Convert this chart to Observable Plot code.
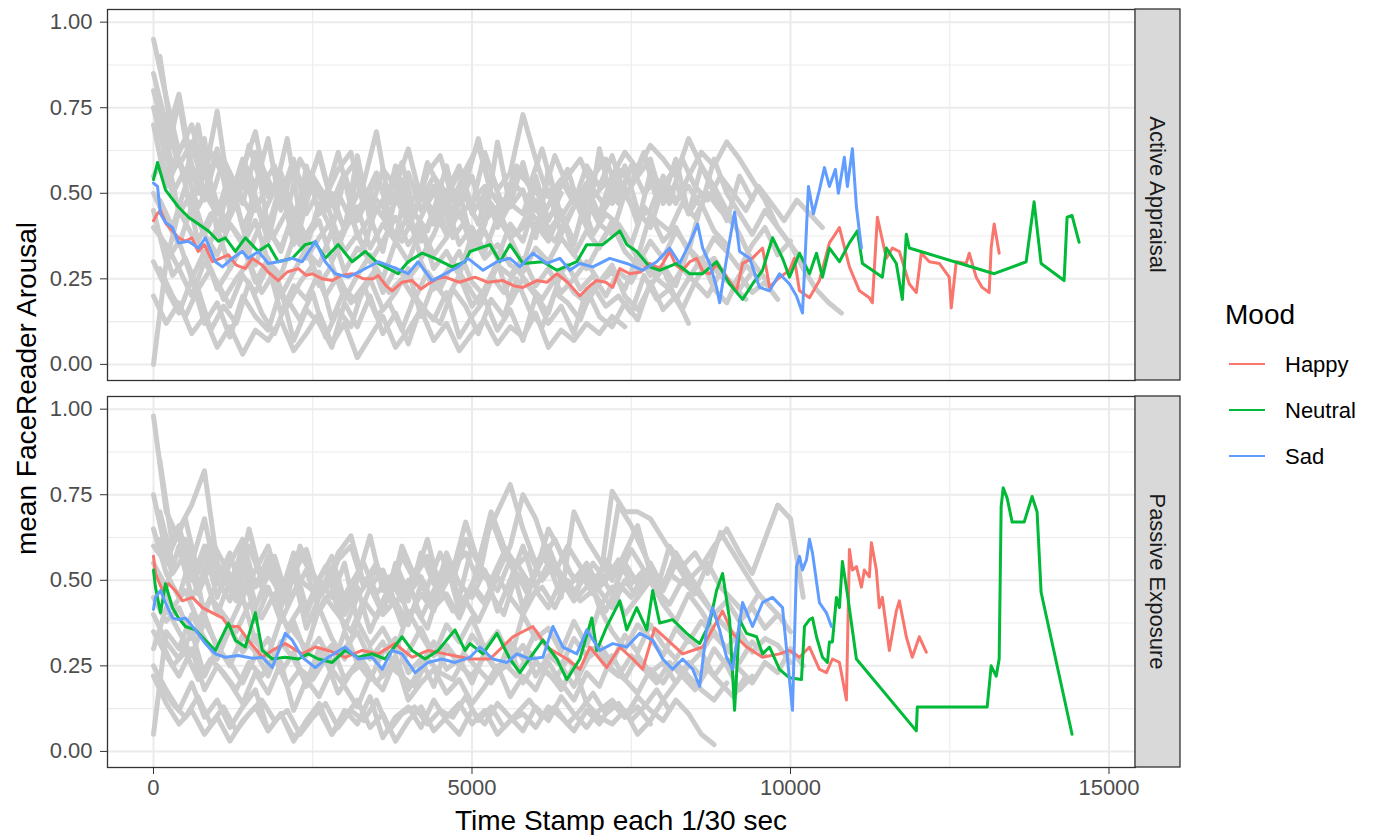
<!DOCTYPE html>
<html>
<head>
<meta charset="utf-8">
<script src="https://cdn.jsdelivr.net/npm/d3@7"></script>
<script src="https://cdn.jsdelivr.net/npm/@observablehq/plot@0.6"></script>
<style>
  html, body { margin: 0; padding: 0; background: #ffffff; }
  #chart { width: 1376px; height: 835px; }
</style>
</head>
<body>
<div id="chart"></div>
<script>
// ---------------- DATA ----------------
const facets = ["Active Appraisal", "Passive Exposure"];
const moods = ["Happy", "Neutral", "Sad"];
const moodColors = ["#F8766D", "#00BA38", "#619CFF"];
const xTicks = [0, 5000, 10000, 15000];
const xMinorTicks = [2500, 7500, 12500];
const yTicks = [0, 0.25, 0.5, 0.75, 1];
const yMinorTicks = [0.125, 0.375, 0.625, 0.875];

// Mean lines, Active Appraisal
const activeHappyT = [0,60,110,200,300,392,500,600,700,800,925,1050,1176,1300,1442,1550,1708,1800,1959,2100,2273,2400,2492,2650,2806,2950,3119,3300,3448,3527,3650,3746,3900,4060,4200,4310,4450,4577,4800,5047,5250,5486,5650,5800,6019,6176,6332,6500,6693,6850,6959,7100,7210,7320,7476,7650,7790,7950,8103,8200,8307,8420,8527,8630,8730,8830,8934,9050,9154,9248,9400,9561,9620,9671,9800,9984,10060,10141,10298,10454,10611,10700,10768,10850,10925,11082,11238,11285,11364,11505,11600,11709,11865,11975,12053,12179,12336,12492,12524,12602,12759,12806,12915,13009,13119,13150,13197,13276];
const activeHappyV = [0.42,0.44,0.45,0.41,0.39,0.37,0.36,0.37,0.33,0.35,0.30,0.31,0.32,0.29,0.28,0.31,0.29,0.27,0.245,0.27,0.28,0.26,0.265,0.25,0.245,0.26,0.265,0.25,0.25,0.26,0.23,0.215,0.24,0.245,0.22,0.235,0.25,0.255,0.24,0.255,0.24,0.245,0.23,0.225,0.245,0.24,0.265,0.24,0.20,0.23,0.245,0.24,0.225,0.28,0.265,0.27,0.295,0.28,0.33,0.29,0.275,0.30,0.31,0.27,0.265,0.29,0.275,0.24,0.215,0.295,0.31,0.34,0.28,0.225,0.25,0.275,0.31,0.215,0.195,0.245,0.355,0.38,0.40,0.34,0.285,0.215,0.195,0.18,0.43,0.31,0.34,0.33,0.235,0.21,0.325,0.30,0.295,0.255,0.165,0.30,0.295,0.325,0.255,0.225,0.21,0.34,0.41,0.325];
const activeNeutralT = [0,63,188,392,549,705,862,1019,1129,1285,1442,1646,1803,1959,2179,2382,2539,2696,2900,3119,3323,3527,3840,3997,4216,4420,4687,4890,4969,5282,5439,5596,5800,6113,6332,6646,6802,7053,7320,7430,7586,7790,7947,8213,8417,8621,8840,9044,9248,9404,9561,9718,9875,9984,10141,10298,10408,10502,10611,10768,10925,11050,11129,11285,11442,11505,11661,11756,11818,11865,13197,13699,13824,13934,14295,14342,14420,14530];
const activeNeutralV = [0.54,0.59,0.51,0.46,0.43,0.41,0.39,0.36,0.37,0.33,0.37,0.33,0.35,0.30,0.31,0.35,0.357,0.31,0.35,0.30,0.33,0.295,0.265,0.30,0.325,0.31,0.285,0.30,0.33,0.35,0.30,0.35,0.295,0.30,0.275,0.30,0.35,0.35,0.39,0.35,0.33,0.285,0.275,0.295,0.265,0.265,0.30,0.235,0.19,0.235,0.275,0.37,0.31,0.255,0.325,0.265,0.325,0.255,0.34,0.30,0.355,0.39,0.295,0.275,0.255,0.34,0.295,0.19,0.38,0.34,0.265,0.30,0.475,0.295,0.245,0.43,0.435,0.357];
const activeSadT = [0,63,110,188,298,392,549,705,815,972,1082,1238,1395,1489,1646,1803,1959,2179,2335,2539,2696,2853,3056,3276,3527,3746,3997,4153,4373,4577,4781,4937,5172,5392,5596,5752,5956,6176,6379,6536,6693,6897,7163,7430,7680,7900,8103,8260,8417,8542,8621,8730,8840,8887,8997,9122,9201,9358,9514,9671,9828,9984,10094,10188,10282,10360,10454,10533,10611,10705,10752,10846,10893,10972,11035,11113];
const activeSadV = [0.53,0.52,0.44,0.415,0.40,0.355,0.36,0.34,0.37,0.30,0.285,0.31,0.33,0.31,0.33,0.295,0.30,0.31,0.30,0.36,0.30,0.265,0.255,0.275,0.30,0.285,0.265,0.30,0.245,0.265,0.285,0.31,0.275,0.30,0.31,0.285,0.325,0.295,0.31,0.275,0.295,0.285,0.31,0.295,0.275,0.30,0.34,0.295,0.355,0.41,0.34,0.295,0.225,0.18,0.31,0.445,0.33,0.31,0.225,0.215,0.265,0.235,0.20,0.15,0.52,0.44,0.51,0.575,0.52,0.57,0.50,0.605,0.52,0.63,0.46,0.34];

// Mean lines, Passive Exposure
const passiveHappyT = [0,31,141,235,345,455,611,768,925,1082,1176,1332,1489,1708,1865,2069,2335,2539,2743,3009,3276,3527,3793,4060,4310,4577,4843,4969,5282,5643,5956,6176,6489,6693,6850,7116,7320,7524,7680,7868,8307,8621,8934,9091,9310,9561,9828,9984,10141,10298,10454,10564,10658,10768,10878,10925,10972,11035,11113,11160,11238,11270,11348,11395,11442,11552,11661,11709,11818,11912,12022,12132];
const passiveHappyV = [0.57,0.52,0.47,0.49,0.47,0.44,0.45,0.42,0.405,0.39,0.365,0.365,0.325,0.275,0.295,0.315,0.285,0.305,0.295,0.275,0.295,0.285,0.315,0.275,0.295,0.285,0.275,0.27,0.27,0.335,0.365,0.305,0.27,0.24,0.305,0.245,0.305,0.27,0.24,0.36,0.285,0.305,0.41,0.345,0.305,0.275,0.285,0.295,0.275,0.305,0.24,0.23,0.27,0.26,0.15,0.59,0.53,0.54,0.48,0.53,0.51,0.61,0.53,0.42,0.45,0.295,0.41,0.44,0.335,0.275,0.335,0.29];
const passiveNeutralT = [0,31,110,188,298,392,502,658,815,972,1176,1285,1442,1599,1708,1865,2069,2273,2429,2586,2806,3009,3213,3433,3637,3903,4060,4263,4467,4733,4890,4969,5172,5392,5596,5752,5956,6113,6332,6489,6693,6881,6959,7116,7320,7430,7586,7743,7837,7947,8150,8370,8574,8730,8840,8934,9044,9122,9201,9310,9467,9561,9671,9828,9984,10172,10220,10298,10345,10408,10502,10580,10611,10658,10721,10768,10815,10893,11035,11975,11991,13088,13150,13229,13276,13307,13339,13401,13480,13668,13793,13871,13934,14420];
const passiveNeutralV = [0.53,0.48,0.405,0.49,0.42,0.39,0.365,0.355,0.325,0.295,0.375,0.325,0.305,0.405,0.295,0.27,0.275,0.27,0.285,0.27,0.26,0.295,0.275,0.285,0.27,0.335,0.295,0.27,0.295,0.355,0.295,0.315,0.285,0.345,0.27,0.23,0.285,0.325,0.27,0.21,0.27,0.39,0.295,0.365,0.44,0.355,0.42,0.355,0.47,0.375,0.385,0.345,0.315,0.375,0.47,0.52,0.385,0.12,0.385,0.345,0.335,0.285,0.305,0.24,0.215,0.21,0.365,0.385,0.39,0.335,0.275,0.26,0.32,0.32,0.45,0.42,0.555,0.46,0.27,0.06,0.13,0.13,0.25,0.22,0.27,0.715,0.77,0.74,0.67,0.67,0.745,0.70,0.465,0.05];
const passiveSadT = [0,31,110,188,298,392,502,658,815,972,1129,1332,1552,1708,1865,2069,2179,2335,2539,2743,3009,3213,3433,3590,3746,3903,4107,4310,4530,4733,4969,5125,5329,5549,5705,5909,6113,6270,6426,6646,6802,7006,7210,7430,7633,7837,7994,8150,8307,8464,8574,8683,8777,8887,8997,9091,9248,9404,9561,9718,9875,9984,10031,10094,10141,10188,10251,10298,10345,10454,10564,10643];
const passiveSadV = [0.415,0.45,0.47,0.435,0.39,0.385,0.39,0.355,0.315,0.285,0.275,0.28,0.272,0.275,0.245,0.345,0.325,0.275,0.245,0.275,0.305,0.27,0.275,0.24,0.295,0.285,0.23,0.26,0.27,0.26,0.275,0.305,0.27,0.26,0.285,0.27,0.275,0.365,0.305,0.285,0.355,0.295,0.315,0.305,0.345,0.325,0.27,0.24,0.27,0.24,0.19,0.355,0.42,0.355,0.275,0.24,0.435,0.365,0.435,0.45,0.42,0.21,0.12,0.54,0.57,0.53,0.56,0.62,0.58,0.435,0.405,0.365];

// Individual participant traces (grey); two sampling grids, every 200 time stamps
const grayTimes = [0,200,400,600,800,1000,1200,1400,1600,1800,2000,2200,2400,2600,2800,3000,3200,3400,3600,3800,4000,4200,4400,4600,4800,5000,5200,5400,5600,5800,6000,6200,6400,6600,6800,7000,7200,7400,7600,7800,8000,8200,8400,8600,8800,9000,9200,9400,9600,9800,10000,10200,10400,10600,10800,11000];
const grayTimesB = [100,300,500,700,900,1100,1300,1500,1700,1900,2100,2300,2500,2700,2900,3100,3300,3500,3700,3900,4100,4300,4500,4700,4900,5100,5300,5500,5700,5900,6100,6300,6500,6700,6900,7100,7300,7500,7700,7900,8100,8300,8500,8700,8900,9100,9300,9500,9700,9900,10100,10300,10500,10700,10900];
const activeGrayTraces = [
  [.95,.78,.62,.70,.55,.74,.48,.60,.52,.66,.45,.58,.50,.62,.47,.55,.60,.44,.57,.52,.63,.48,.55,.50,.58,.46,.62,.51,.56,.73,.60,.49,.54,.47,.58,.52,.61,.49,.55,.60,.47,.53,.44,.58,.50,.42,.55,.48],
  [.80,.66,.79,.58,.50,.63,.45,.57,.68,.49,.56,.44,.52,.61,.47,.40,.55,.48,.43,.58,.46,.52,.41,.49,.56,.44,.50,.42,.47,.59,.45,.51,.38,.46,.53,.43,.49,.58,.45,.40,.52,.47,.55,.62,.58,.65,.60,.54,.48,.40,.35,.28,.22,.18,.15],
  [.55,.62,.44,.50,.38,.46,.41,.35,.48,.40,.33,.45,.37,.42,.30,.39,.46,.34,.41,.36,.44,.31,.38,.47,.35,.40,.33,.43,.37,.29,.41,.36,.45,.32,.39,.34,.42,.38,.31,.44,.36,.40,.33,.47,.39,.35],
  [.30,.22,.15,.25,.12,.18,.08,.20,.14,.10,.22,.07,.16,.12,.05,.18,.11,.20,.09,.15,.06,.17,.13,.21,.08,.14,.19,.10,.16,.07,.20,.12,.17,.09,.22,.14,.11,.18,.13,.24,.16,.20,.12],
  [.40,.35,.28,.20,.30,.24,.17,.26,.21,.29,.15,.23,.19,.27,.13,.22,.18,.25,.16,.21,.28,.14,.24,.19,.26,.17,.22,.30,.18,.25,.20,.15,.27,.21,.18,.24,.29,.20,.16,.23,.28,.19,.25,.31,.22,.18,.26,.21,.24,.19],
  [.70,.52,.60,.45,.66,.38,.55,.47,.62,.40,.53,.35,.58,.44,.50,.39,.61,.42,.48,.36,.56,.45,.52,.38,.47,.55,.41,.65,.46,.51,.37,.57,.43,.49,.40,.63,.47,.52,.41,.56,.48,.60,.44,.50],
  [.00,.30,.45,.38,.32,.40,.28,.35,.42,.30,.26,.37,.33,.29,.39,.27,.34,.31,.25,.36,.30,.40,.28,.33,.26,.38,.31,.35,.29,.27,.34,.30,.37,.32,.28,.35,.41,.33,.29,.36,.31,.39,.34,.30,.37,.33,.28,.35,.40,.32,.36],
  [.20,.12,.18,.09,.14,.05,.11,.03,.10,.07,.13,.04,.09,.15,.06,.12,.02,.08,.14,.05,.10,.16,.07,.12,.04,.09,.13,.06,.11,.08,.15,.05,.10,.07,.12,.09,.14,.11],
  [.85,.70,.58,.65,.50,.44,.56,.40,.48,.36,.52,.42,.34,.47,.39,.55,.37,.43,.33,.49,.41,.36,.45,.38,.51,.35,.42,.46,.37,.40,.53,.39,.44,.36,.48,.41,.38,.50,.43,.45,.55,.48,.52,.46,.60,.50,.44,.38,.45,.40,.35,.30],
  [.45,.30,.36,.25,.33,.22,.28,.35,.24,.31,.20,.27,.34,.23,.29,.19,.26,.32,.21,.28,.25,.30,.22,.27,.33,.24,.20,.29,.26,.31,.23,.28,.21,.25,.30,.24,.27,.22,.32,.26,.29,.23,.34,.28,.31,.25,.22,.27],
  [.75,.60,.77,.55,.48,.62,.50,.57,.45,.53,.49,.60,.44,.51,.47,.56,.42,.50,.46,.54,.41,.49,.45,.58,.43,.48,.52,.40,.47,.44,.55,.42,.50],
  [.50,.42,.35,.46,.38,.32,.41,.36,.29,.39,.34,.44,.31,.37,.42,.33,.38,.30,.36,.43,.35,.40,.32,.37,.45,.34,.39,.31,.41,.36,.48,.38,.43,.35,.50,.44,.55,.62,.57,.64,.60,.55,.66,.58,.52,.45,.38,.30,.25]
];
const activeGrayTracesB = [
  [.72,.58,.66,.50,.62,.55,.48,.64,.52,.58,.45,.60,.53,.49,.57,.62,.46,.54,.50,.59,.44,.56,.61,.48,.53,.66,.50,.47,.58,.52,.63,.49,.55,.60,.51,.46,.57,.53,.62,.48,.55],
  [.48,.40,.52,.36,.44,.39,.47,.33,.42,.38,.45,.35,.41,.48,.37,.43,.34,.46,.40,.36,.44,.39,.50,.37,.42,.35,.47,.41,.38,.45,.40,.36,.43,.49,.38,.44,.41,.35,.46,.42,.39,.47,.43,.50,.45,.41],
  [.28,.20,.14,.22,.10,.17,.12,.24,.15,.09,.19,.13,.21,.08,.16,.11,.23,.14,.18,.10,.20,.15,.12,.22,.17,.09,.19,.14,.25,.16,.11,.21,.18,.13,.23,.17,.20,.15,.26,.19,.22,.16,.24,.20,.27,.23,.19],
  [.62,.50,.57,.46,.53,.41,.49,.55,.43,.51,.47,.40,.54,.45,.50,.42,.48,.56,.44,.51,.39,.47,.53,.45,.49,.41,.55,.46,.52,.48,.43,.50,.57,.45,.49,.53,.47,.58,.50,.54,.47,.60,.52,.48,.55,.50,.45,.52,.47,.42,.48,.44,.40],
  [.38,.26,.31,.22,.28,.19,.25,.30,.21,.27,.17,.24,.29,.20,.26,.18,.23,.28,.21,.25,.19,.27,.22,.30,.24,.18,.26,.21,.28,.23,.19,.25,.29,.22,.26,.20,.27,.24,.31,.25,.22,.28,.24,.30,.26,.23,.29,.25],
  [.90,.65,.55,.70,.48,.60,.52,.45,.58,.50,.66,.43,.55,.49,.62,.46,.53,.68,.47,.54,.44,.59,.51,.48,.57,.64,.50,.45,.56,.53,.48,.61,.52,.47,.55,.60,.50,.57]
];
const passiveGrayTraces = [
  [.98,.70,.62,.55,.68,.50,.58,.45,.53,.60,.47,.55,.42,.50,.57,.44,.52,.48,.40,.55,.46,.51,.43,.58,.49,.45,.53,.41,.50,.60,.48,.55,.45,.70,.62,.56,.50,.58,.66,.52,.47,.55,.49],
  [.60,.55,.65,.72,.82,.55,.48,.60,.42,.52,.46,.58,.40,.50,.45,.55,.38,.48,.53,.43,.50,.39,.47,.55,.41,.49,.44,.52,.60,.75,.68,.57,.50,.46,.53,.42,.48,.40,.45,.50,.43,.38,.46,.41,.35],
  [.45,.38,.42,.33,.40,.30,.37,.45,.32,.28,.39,.35,.30,.42,.33,.27,.38,.31,.36,.29,.41,.34,.28,.37,.32,.39,.30,.35,.27,.40,.33,.36,.29,.38,.31,.42,.35,.30,.37,.33,.28,.36,.32,.38,.34,.30,.35,.29,.33,.31,.26],
  [.25,.18,.12,.20,.10,.15,.07,.13,.18,.06,.11,.03,.09,.14,.05,.12,.08,.16,.04,.10,.13,.07,.15,.09,.05,.12,.08,.14,.10,.06,.13,.09,.16,.11,.07,.12,.15,.10,.13,.08],
  [.35,.28,.22,.30,.18,.25,.20,.14,.23,.17,.26,.12,.21,.16,.24,.19,.13,.22,.18,.27,.15,.20,.24,.17,.21,.14,.19,.25,.16,.22,.18,.26,.20,.15,.23,.19,.28,.21,.17,.24,.20,.26,.22,.18,.15,.20],
  [.75,.58,.66,.50,.60,.45,.55,.62,.48,.57,.43,.52,.59,.46,.54,.41,.50,.63,.47,.53,.44,.58,.49,.55,.45,.60,.51,.47,.56,.42,.52,.65,.58,.50,.55,.48,.76,.70,.70,.68,.62,.56,.50,.45,.40,.36,.33],
  [.05,.35,.30,.40,.33,.27,.36,.29,.34,.25,.31,.38,.28,.33,.26,.30,.35,.27,.32,.24,.29,.36,.28,.31,.26,.34,.29,.23,.32,.27,.35,.30,.25,.33,.28,.31,.26,.34,.29,.37,.31,.27,.33,.29,.35,.30,.26,.32,.28],
  [.22,.14,.08,.12,.05,.10,.03,.09,.13,.06,.11,.04,.08,.12,.05,.10,.15,.07,.11,.03,.09,.13,.06,.10,.14,.08,.12,.05,.09,.11,.07,.13,.10,.06,.12,.08,.14,.10,.16,.12,.09,.15,.11,.05,.02],
  [.65,.52,.45,.58,.40,.50,.44,.55,.38,.47,.42,.52,.36,.45,.50,.40,.48,.35,.44,.52,.39,.46,.41,.55,.43,.48,.62,.70,.78,.65,.55,.60,.50,.45,.53,.47,.42,.50,.45,.55,.48,.58,.52,.46,.40,.44,.38,.42,.36,.40,.35],
  [.40,.32,.27,.35,.22,.30,.26,.20,.28,.33,.23,.29,.19,.27,.31,.21,.26,.30,.22,.28,.18,.25,.32,.24,.27,.20,.29,.23,.26,.31,.22,.28,.25,.19,.27,.30,.24,.21,.28,.23,.26,.20,.25,.29,.22,.27,.24,.20,.26,.23,.30,.25],
  [.55,.48,.60,.45,.52,.40,.50,.57,.43,.48,.38,.46,.53,.41,.47,.36,.45,.51,.40,.44,.37,.49,.42,.46,.39,.48,.43,.51,.45,.40,.47,.42,.50,.44,.48,.52,.46,.55,.49,.53,.47,.58,.50,.54,.60,.65,.58,.52,.62,.72,.68,.45],
  [.30,.42,.35,.28,.38,.31,.25,.34,.29,.22,.32,.27,.20,.30,.24,.35,.26,.21,.29,.33,.23,.27,.19,.31,.25,.22,.28,.24,.30,.20,.26,.23,.18,.25,.14,.10,.08,.12,.05,.09,.15,.20,.26,.22,.30,.25,.18,.22]
];
const passiveGrayTracesB = [
  [.70,.55,.62,.48,.58,.52,.45,.60,.50,.55,.46,.58,.51,.47,.56,.60,.48,.53,.45,.57,.50,.62,.47,.54,.58,.50,.68,.58,.55,.49,.57,.52,.60,.54,.48,.56,.51,.59,.53,.47,.52,.49],
  [.50,.42,.47,.38,.45,.40,.35,.43,.39,.46,.36,.42,.38,.45,.40,.35,.44,.39,.47,.37,.42,.36,.48,.41,.44,.38,.46,.40,.52,.45,.48,.42,.50,.44,.47,.41,.49,.45,.52,.47,.43,.50,.46,.55,.48,.44,.40,.46,.42,.38],
  [.20,.14,.10,.16,.08,.13,.06,.11,.15,.09,.12,.05,.10,.14,.07,.12,.09,.15,.06,.11,.13,.08,.12,.10,.16,.09,.13,.07,.11,.15,.10,.13,.08,.12,.17,.11,.14,.09,.13,.18,.12],
  [.62,.52,.58,.46,.55,.50,.44,.52,.48,.56,.43,.50,.47,.54,.42,.49,.55,.46,.51,.44,.53,.48,.58,.50,.62,.55,.70,.60,.54,.58,.50,.55,.48,.52,.46,.50,.56,.49,.53,.47,.60,.54,.58,.52,.64,.58,.52,.46],
  [.33,.25,.29,.21,.27,.23,.18,.26,.22,.28,.19,.24,.21,.27,.17,.23,.26,.20,.25,.22,.19,.27,.23,.21,.28,.24,.20,.26,.22,.29,.24,.21,.27,.23,.30,.25,.22,.28,.24,.20,.26,.22,.18,.24,.20,.16,.22],
  [.85,.60,.68,.52,.62,.55,.48,.65,.50,.57,.45,.60,.52,.47,.58,.63,.49,.55,.44,.60,.51,.57,.46,.53,.67,.55,.50,.58,.52,.48,.56,.62,.53,.49,.55,.50,.72,.66,.58,.50]
];

// ---------------- TABLES ----------------
const meanRows = [];
function addMean(facet, mood, T, V) {
  const n = Math.min(T.length, V.length);
  for (let i = 0; i < n; i++) meanRows.push({facet, mood, t: T[i], v: V[i]});
}
addMean(facets[0], "Happy", activeHappyT, activeHappyV);
addMean(facets[0], "Neutral", activeNeutralT, activeNeutralV);
addMean(facets[0], "Sad", activeSadT, activeSadV);
addMean(facets[1], "Happy", passiveHappyT, passiveHappyV);
addMean(facets[1], "Neutral", passiveNeutralT, passiveNeutralV);
addMean(facets[1], "Sad", passiveSadT, passiveSadV);

const grayRows = [];
function addGray(facet, traces, times, tag) {
  traces.forEach((vals, k) => {
    vals.forEach((v, i) => grayRows.push({facet, id: facet + tag + k, t: times[i], v}));
  });
}
addGray(facets[0], activeGrayTraces, grayTimes, "-a");
addGray(facets[0], activeGrayTracesB, grayTimesB, "-b");
addGray(facets[1], passiveGrayTraces, grayTimes, "-a");
addGray(facets[1], passiveGrayTracesB, grayTimesB, "-b");

// ---------------- PLOT ----------------
const FONT = "'Liberation Sans', Arial, Helvetica, sans-serif";
const W = 1376, H = 835;
const mL = 107, mR = 241, mT = 9, mB = 67;

const plot = Plot.plot({
  width: W, height: H,
  marginLeft: mL, marginRight: mR, marginTop: mT, marginBottom: mB,
  style: {fontFamily: FONT, background: "#ffffff", color: "#4d4d4d", overflow: "visible"},
  x: {domain: [-722, 15416]},
  y: {domain: [-0.047, 1.037]},
  fy: {domain: facets, axis: null, paddingInner: 0.0413, paddingOuter: 0},
  color: {domain: moods, range: moodColors},
  marks: [
    Plot.gridX(xMinorTicks, {stroke: "#ebebeb", strokeOpacity: 1, strokeWidth: 1.1}),
    Plot.gridY(yMinorTicks, {stroke: "#ebebeb", strokeOpacity: 1, strokeWidth: 1.1}),
    Plot.gridX(xTicks, {stroke: "#ebebeb", strokeOpacity: 1, strokeWidth: 2}),
    Plot.gridY(yTicks, {stroke: "#ebebeb", strokeOpacity: 1, strokeWidth: 2}),
    Plot.line(grayRows, {x: "t", y: "v", z: "id", fy: "facet", stroke: "#cccccc", strokeWidth: 5, strokeLinejoin: "round"}),
    Plot.line(meanRows, {x: "t", y: "v", z: "mood", fy: "facet", stroke: "mood", strokeWidth: 3, strokeLinejoin: "round"}),
    Plot.frame({stroke: "#333333", strokeWidth: 1.3}),
    Plot.axisY({ticks: yTicks, tickFormat: d3.format(".2f"), tickSize: 7, tickPadding: 8, label: null, stroke: "#333333", fill: "#4d4d4d", fontSize: 22}),
    Plot.axisX({ticks: xTicks, tickFormat: d3.format("d"), tickSize: 7, tickPadding: 5, label: null, stroke: "#333333", fill: "#4d4d4d", fontSize: 22})
  ]
});

document.getElementById("chart").appendChild(plot);

// ---------------- DECORATIONS (strips, titles, legend) ----------------
const svg = d3.select(plot);
const fyScale = plot.scale("fy");
const xScale = plot.scale("x");
const xRight = xScale.range[1];
const bw = fyScale.bandwidth;
facets.forEach(f => {
  const y0 = fyScale.apply(f);
  svg.append("rect")
    .attr("x", xRight).attr("y", y0).attr("width", 45).attr("height", bw)
    .attr("fill", "#d9d9d9").attr("stroke", "#333333").attr("stroke-width", 1.3);
  svg.append("text")
    .attr("transform", `translate(${xRight + 22.5},${y0 + bw / 2}) rotate(90)`)
    .attr("text-anchor", "middle").attr("dominant-baseline", "central")
    .attr("font-family", FONT).attr("font-size", 22).attr("fill", "#1a1a1a")
    .text(f);
});

// axis titles
const xMid = (xScale.range[0] + xScale.range[1]) / 2;
svg.append("text")
  .attr("x", xMid).attr("y", 830).attr("text-anchor", "middle")
  .attr("font-family", FONT).attr("font-size", 28).attr("fill", "#000000")
  .text("Time Stamp each 1/30 sec");
const yMid = (mT + (H - mB)) / 2;
svg.append("text")
  .attr("transform", `translate(36,${yMid}) rotate(-90)`)
  .attr("text-anchor", "middle")
  .attr("font-family", FONT).attr("font-size", 28).attr("fill", "#000000")
  .text("mean FaceReader Arousal");

// legend
const lg = svg.append("g").attr("text-anchor", "start");
lg.append("text").attr("x", 1225).attr("y", 324).attr("text-anchor", "start")
  .attr("font-family", FONT).attr("font-size", 28).attr("fill", "#000000").text("Mood");
const legendY = [364, 410, 456];
moods.forEach((m, i) => {
  lg.append("line").attr("x1", 1229).attr("x2", 1265).attr("y1", legendY[i]).attr("y2", legendY[i])
    .attr("stroke", moodColors[i]).attr("stroke-width", 2.2);
  lg.append("text").attr("x", 1285).attr("y", legendY[i]).attr("text-anchor", "start")
    .attr("dominant-baseline", "central")
    .attr("font-family", FONT).attr("font-size", 22).attr("fill", "#000000").text(m);
});
</script>
</body>
</html>
